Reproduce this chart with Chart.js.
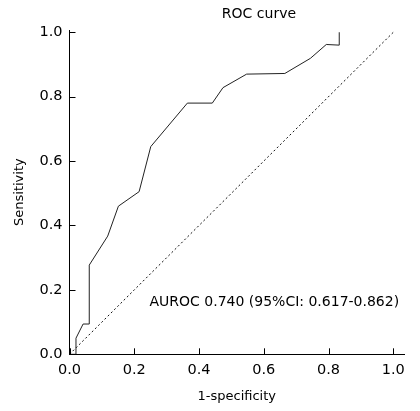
<!DOCTYPE html>
<html>
<head>
<meta charset="utf-8">
<script src="https://cdn.jsdelivr.net/npm/chart.js@4.4.1/dist/chart.umd.min.js"></script>
<style>
  html, body { margin: 0; padding: 0; background: #fff; }
  #wrap { width: 420px; height: 411px; }
</style>
</head>
<body>
<div id="wrap"><canvas id="roc" width="420" height="411"></canvas></div>
<script>
// dados
const fpr = [0, 0.02, 0.02, 0.042, 0.061, 0.061, 0.118, 0.151, 0.215, 0.251, 0.364, 0.441, 0.474, 0.547, 0.665, 0.744, 0.793, 0.833, 0.833]
const sens = [0, 0, 0.05, 0.094, 0.094, 0.277, 0.367, 0.46, 0.505, 0.645, 0.78, 0.78, 0.828, 0.87, 0.872, 0.919, 0.962, 0.96, 1.0]
const refX = [0, 1]
const refY = [0, 1]
const tickValues = [0, 0.2, 0.4, 0.6, 0.8, 1.0]
const tickLabels = ['0.0', '0.2', '0.4', '0.6', '0.8', '1.0']
const chartTitle = 'ROC curve'
const aucText = 'AUROC 0.740 (95%CI: 0.617-0.862)'

const FONT = "'DejaVu Sans', sans-serif"

// ticks para dentro + textos
const extras = {
  id: 'extras',
  afterDraw(chart) {
    const c = chart.ctx
    const xs = chart.scales.x, ys = chart.scales.y
    c.save()
    c.strokeStyle = '#000'
    c.lineWidth = 1
    c.beginPath()
    tickValues.forEach(v => {
      const px = Math.round(xs.getPixelForValue(v)) + 0.5
      c.moveTo(px, xs.top)
      c.lineTo(px, xs.top - 6)
      const py = Math.round(ys.getPixelForValue(v)) + 0.5
      c.moveTo(ys.right, py)
      c.lineTo(ys.right + 6, py)
    })
    c.stroke()
    c.fillStyle = '#000'
    c.font = '14px ' + FONT
    c.textBaseline = 'middle'
    c.textAlign = 'center'
    c.fillText(chartTitle, xs.getPixelForValue(0.585), 14)
    c.textAlign = 'left'
    c.fillText(aucText, xs.getPixelForValue(0.247), ys.getPixelForValue(0.161))
    c.restore()
  }
}

const ctx = document.getElementById('roc').getContext('2d')

const config = {
  type: 'scatter',
  data: {
    datasets: [
      {
        data: fpr.map((x, i) => ({ x: x, y: sens[i] })),
        showLine: true,
        borderColor: '#222',
        borderWidth: 1,
        pointRadius: 0,
        tension: 0
      },
      {
        data: refX.map((x, i) => ({ x: x, y: refY[i] })),
        showLine: true,
        borderColor: '#111',
        borderWidth: 1,
        borderDash: [2, 2.5],
        pointRadius: 0
      }
    ]
  },
  options: {
    responsive: false,
    animation: false,
    layout: { padding: { left: 6, right: 16, top: 30, bottom: 0 } },
    plugins: {
      legend: { display: false },
      title: { display: false },
      tooltip: { enabled: false }
    },
    scales: {
      x: {
        type: 'linear',
        min: 0,
        max: 1.033,
        afterBuildTicks: s => { s.ticks = tickValues.map(v => ({ value: v })) },
        afterFit: s => { s.height = 411 - 354.3 },
        grid: { display: true, drawOnChartArea: false, drawTicks: false },
        border: { display: true, color: '#000', width: 1 },
        ticks: {
          color: '#000',
          padding: 7,
          font: { family: FONT, size: 14.5 },
          callback: (v) => tickLabels[tickValues.indexOf(v)] ?? ''
        },
        title: {
          display: true,
          text: '1-specificity',
          color: '#000',
          font: { family: FONT, size: 13 },
          padding: { top: 0, bottom: 7 }
        }
      },
      y: {
        type: 'linear',
        min: 0,
        max: 1.007,
        afterBuildTicks: s => { s.ticks = tickValues.map(v => ({ value: v })) },
        afterFit: s => { s.width = 69.5 - 6 },
        grid: { display: true, drawOnChartArea: false, drawTicks: false },
        border: { display: true, color: '#000', width: 1 },
        ticks: {
          color: '#000',
          padding: 7,
          font: { family: FONT, size: 14.5 },
          callback: (v) => tickLabels[tickValues.indexOf(v)] ?? ''
        },
        title: {
          display: true,
          text: 'Sensitivity',
          color: '#000',
          font: { family: FONT, size: 13 },
          padding: { top: 6, bottom: 0 }
        }
      }
    }
  },
  plugins: [extras]
}

const grafico = new Chart(ctx, config)
</script>
</body>
</html>
